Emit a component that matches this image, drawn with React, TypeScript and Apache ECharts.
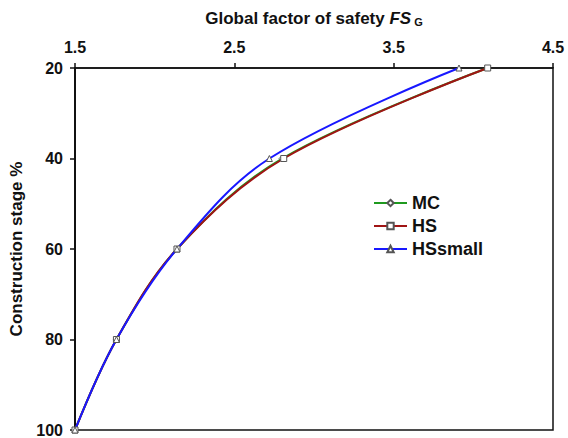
import React, { useEffect, useRef } from "react";
import * as echarts from "echarts";

// Construction stage (%) and the global factor of safety reached at each stage
const stages = [20, 40, 60, 80, 100];
const fsMC = [4.09, 2.8, 2.14, 1.76, 1.5];
const fsHS = [4.09, 2.81, 2.14, 1.76, 1.5];
const fsHSsmall = [3.91, 2.72, 2.14, 1.76, 1.5];
const xTicks = [1.5, 2.5, 3.5, 4.5];
const yTicks = [20, 40, 60, 80, 100];

const FONT = "Arial, 'Liberation Sans', sans-serif";

function pairs(xs: number[]) {
  return xs.map((x, i) => [x, stages[i]]);
}

export default function App() {
  const ref = useRef<HTMLDivElement>(null);

  useEffect(() => {
    if (!ref.current) return;
    const chart = echarts.init(ref.current, undefined, { renderer: "svg" });
    const markerStyle = { color: "#ffffff", borderColor: "#555", borderWidth: 1 };
    const mk = (name: string, data: number[], color: string, symbol: string) => ({
      name,
      type: "line",
      data: pairs(data),
      smooth: 0.35,
      symbol,
      symbolSize: 6,
      showAllSymbol: true,
      lineStyle: { color, width: 2 },
      itemStyle: { ...markerStyle },
      color,
    });
    chart.setOption({
      animation: false,
      backgroundColor: "#ffffff",
      grid: {
        left: 75,
        right: 15,
        top: 68,
        bottom: 8,
        show: true,
        borderColor: "#111",
        borderWidth: 1.5,
        backgroundColor: "transparent",
      },
      legend: {
        orient: "vertical",
        left: 368,
        top: 189,
        itemWidth: 33,
        itemHeight: 8,
        itemGap: 5,
        textStyle: { fontFamily: FONT, fontWeight: "bold", fontSize: 18, color: "#111" },
        data: ["MC", "HS", "HSsmall"],
      },
      xAxis: {
        type: "value",
        position: "top",
        min: 1.5,
        max: 4.5,
        name: "{a|Global factor of safety }{b|FS}{c| G}",
        nameLocation: "middle",
        nameGap: 41,
        nameTextStyle: {
          rich: {
            a: { fontFamily: FONT, fontWeight: "bold", fontSize: 17, color: "#111" },
            b: { fontFamily: FONT, fontWeight: "bold", fontStyle: "italic", fontSize: 17, color: "#111" },
            c: { fontFamily: FONT, fontWeight: "bold", fontSize: 11, color: "#111", padding: [7, 0, 0, 0] },
          },
        },
        axisLine: { show: true, lineStyle: { color: "#111", width: 1.5 } },
        axisTick: { show: true, inside: false, length: 5, customValues: xTicks, lineStyle: { color: "#111", width: 1.5 } },
        axisLabel: {
          customValues: xTicks,
          margin: 13,
          fontFamily: FONT,
          fontWeight: "bold",
          fontSize: 16,
          color: "#111",
          formatter: (v: number) => v.toFixed(1),
        },
        splitLine: { show: false },
      },
      yAxis: {
        type: "value",
        inverse: true,
        min: 20,
        max: 100,
        interval: 20,
        name: "Construction stage %",
        nameLocation: "middle",
        nameGap: 40,
        nameTextStyle: { fontFamily: FONT, fontWeight: "bold", fontSize: 17, color: "#111" },
        axisLine: { show: true, lineStyle: { color: "#111", width: 2 } },
        axisTick: { show: true, length: 5, lineStyle: { color: "#111", width: 1.5 } },
        axisLabel: {
          customValues: yTicks,
          margin: 12,
          fontFamily: FONT,
          fontWeight: "bold",
          fontSize: 16,
          color: "#111",
        },
        splitLine: { show: false },
      },
      series: [
        mk("MC", fsMC, "#1f9a1f", "diamond"),
        mk("HS", fsHS, "#a01414", "rect"),
        mk("HSsmall", fsHSsmall, "#1818ff", "triangle"),
      ],
    });
    return () => chart.dispose();
  }, []);

  return (
    <div
      ref={ref}
      style={{ position: "fixed", left: 0, top: 0, width: 568, height: 438, background: "#fff" }}
    />
  );
}
